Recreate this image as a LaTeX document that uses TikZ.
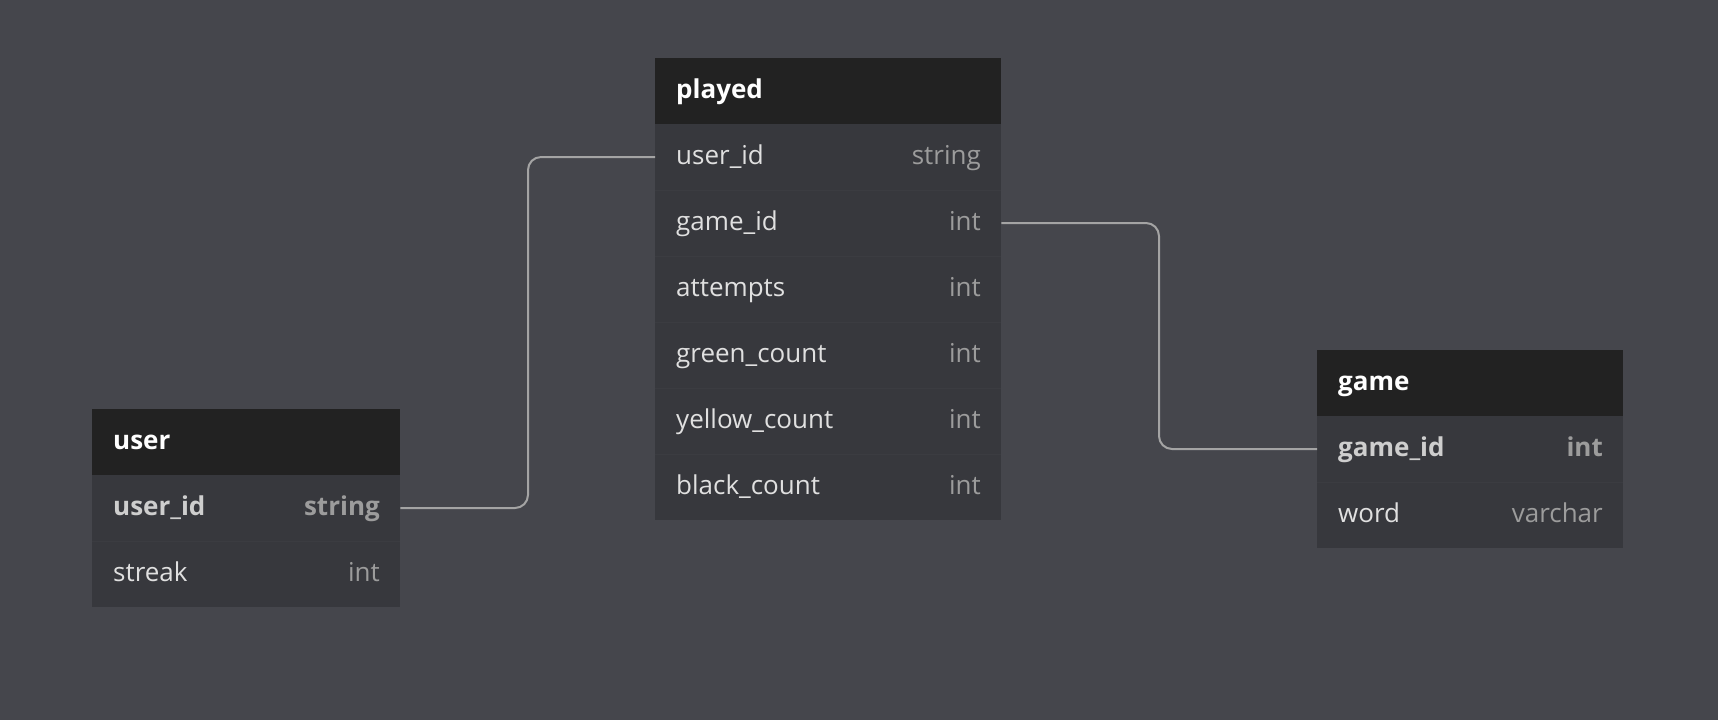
\documentclass[tikz,border=0pt]{standalone}
\usepackage{fontspec}
\setmainfont{Open Sans}
\definecolor{bg}{HTML}{45464C}
\definecolor{hdr}{HTML}{222222}
\definecolor{rowc}{HTML}{37383D}
\definecolor{sepc}{HTML}{3B3C41}
\definecolor{namec}{HTML}{E0E0E0}
\definecolor{typec}{HTML}{9C9C9C}
\definecolor{wire}{HTML}{A4A4A4}
\tikzset{
  hdrbox/.style={fill=hdr, draw=none, anchor=north west, minimum height=66pt, inner sep=0pt},
  rowbox/.style={fill=rowc, draw=none, anchor=north west, minimum height=66pt, inner sep=0pt},
  hdrtxt/.style={anchor=base west, inner sep=0pt, text=white, font=\fontsize{26}{30}\selectfont\bfseries},
  nametxt/.style={anchor=base west, inner sep=0pt, text=namec, font=\fontsize{26}{30}\selectfont},
  typetxt/.style={anchor=base east, inner sep=0pt, text=typec, font=\fontsize{26}{30}\selectfont},
  keyname/.style={nametxt, text=namec!92!black, font=\fontsize{26}{30}\selectfont\bfseries},
  keytype/.style={typetxt, font=\fontsize{26}{30}\selectfont\bfseries},
  seprule/.style={draw=sepc, line width=1pt},
  wireline/.style={draw=wire, line width=2pt, rounded corners=13pt},
}
\begin{document}
\begin{tikzpicture}[x=1pt,y=-1pt]
\fill[bg] (0,0) rectangle (1718,720);
\useasboundingbox (0,0) rectangle (1718,720);

% ---------- played ----------
\node[hdrbox, minimum width=346pt] (ph) at (655,58) {};
\node[hdrtxt] (pht) at (676,98) {played};
\foreach \i/\n/\t in {1/user\_id/string, 2/game\_id/int, 3/attempts/int, 4/green\_count/int, 5/yellow\_count/int, 6/black\_count/int}{
  \node[rowbox, minimum width=346pt] (p\i) at (655,{58+66*\i}) {};
  \node[nametxt] (p\i n) at (676,{58+66*\i+40}) {\n};
  \node[typetxt] (p\i t) at (981,{58+66*\i+40}) {\t};
}
\foreach \i in {2,...,6}{\draw[seprule] (p\i.north west) -- (p\i.north east);}

% ---------- user ----------
\node[hdrbox, minimum width=308pt] (uh) at (92,409) {};
\node[hdrtxt] (uht) at (113,449) {user};
\node[rowbox, minimum width=308pt] (u1) at (92,475) {};
\node[keyname] (u1n) at (113,515) {user\_id};
\node[keytype] (u1t) at (380,515) {string};
\node[rowbox, minimum width=308pt] (u2) at (92,541) {};
\node[nametxt] (u2n) at (113,581) {streak};
\node[typetxt] (u2t) at (380,581) {int};
\draw[seprule] (u2.north west) -- (u2.north east);

% ---------- game ----------
\node[hdrbox, minimum width=306pt] (gh) at (1317,350) {};
\node[hdrtxt] (ght) at (1338,390) {game};
\node[rowbox, minimum width=306pt] (g1) at (1317,416) {};
\node[keyname] (g1n) at (1338,456) {game\_id};
\node[keytype] (g1t) at (1603,456) {int};
\node[rowbox, minimum width=306pt] (g2) at (1317,482) {};
\node[nametxt] (g2n) at (1338,522) {word};
\node[typetxt] (g2t) at (1603,522) {varchar};
\draw[seprule] (g2.north west) -- (g2.north east);

% ---------- connectors ----------
\draw[wireline] (u1.east) -- (528,508) -- (528,157) -- (p1.west);
\draw[wireline] (p2.east) -- (1159,223) -- (1159,449) -- (g1.west);
\end{tikzpicture}
\end{document}
